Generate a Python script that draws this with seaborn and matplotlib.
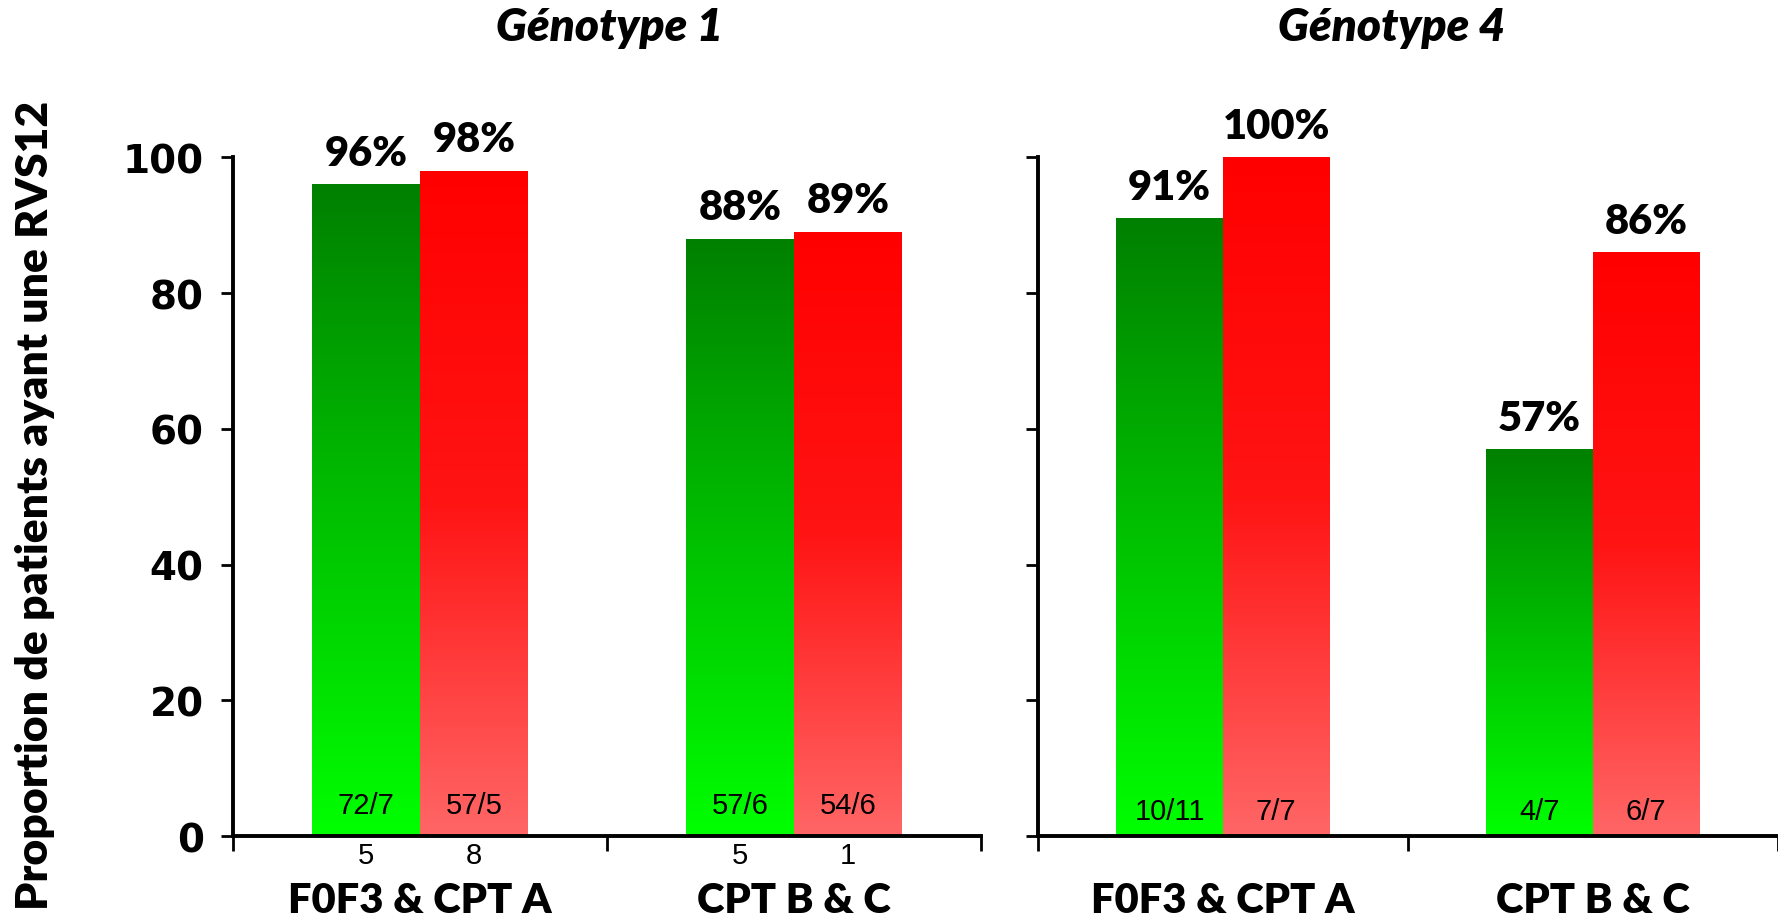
import numpy as np
import pandas as pd
import matplotlib
matplotlib.use("Agg")
import matplotlib.pyplot as plt
import seaborn as sns
from matplotlib.colors import LinearSegmentedColormap

# data
groups = ["F0F3 & CPT A", "CPT B & C"]
arms = ["vert", "rouge"]
geno1_green = [96, 88]
geno1_red = [98, 89]
geno4_green = [91, 57]
geno4_red = [100, 86]
# counts as they are printed (the panel 1 ones wrap below the axis)
geno1_green_n = ["72/7\n5", "57/6\n5"]
geno1_red_n = ["57/5\n8", "54/6\n1"]
geno4_green_n = ["10/11", "4/7"]
geno4_red_n = ["7/7", "6/7"]
titles = ["Génotype 1", "Génotype 4"]
ylabel = "Proportion de patients ayant une RVS12"
yticks = [0, 20, 40, 60, 80, 100]

green_cmap = LinearSegmentedColormap.from_list("g", ["#00ff00", "#008000"])
red_cmap = LinearSegmentedColormap.from_list("r", ["#ff6666", "#ff1414", "#ff0000"])

sns.set_style("ticks")
plt.rcParams["font.family"] = ["Lato", "DejaVu Sans"]
plt.rcParams["text.color"] = "black"
plt.rcParams["xtick.color"] = "black"
plt.rcParams["ytick.color"] = "black"
plt.rcParams["xtick.labelcolor"] = "black"
plt.rcParams["ytick.labelcolor"] = "black"

fig = plt.figure(figsize=(17.78, 9.2), dpi=100)
ax1 = fig.add_axes([0.131, 0.090, 0.4207, 0.738])
ax2 = fig.add_axes([0.5838, 0.090, 0.4162, 0.738])


def make_df(green, red):
    rows = []
    for g, a, b in zip(groups, green, red):
        rows.append({"group": g, "arm": arms[0], "value": a})
        rows.append({"group": g, "arm": arms[1], "value": b})
    return pd.DataFrame(rows)


def draw_panel(ax, green, red, green_n, red_n, xmax, count_y, show_labels):
    df = make_df(green, red)
    sns.barplot(data=df, x="group", y="value", hue="arm", hue_order=arms,
                palette=["#00c000", "#ff3030"], width=0.576, saturation=1,
                legend=False, ax=ax, errorbar=None)
    cmaps = [green_cmap, red_cmap]
    counts = [green_n, red_n]
    grad = np.linspace(0, 1, 256).reshape(-1, 1)
    for k, cont in enumerate(ax.containers):
        for i, bar in enumerate(cont):
            x0 = bar.get_x()
            w = bar.get_width()
            h = bar.get_height()
            im = ax.imshow(grad, cmap=cmaps[k], origin="lower", aspect="auto",
                           extent=[x0, x0 + w, 0, h], zorder=bar.get_zorder() + 0.1)
            im.set_clip_path(bar)
            bar.set_edgecolor("none")
            ax.annotate(f"{h:.0f}%", (x0 + w / 2, h), xytext=(0, 9),
                        textcoords="offset points", ha="center", va="bottom",
                        fontsize=30, fontweight="heavy", color="black", zorder=5)
            ax.text(x0 + w / 2, count_y, counts[k][i], ha="center", va="center",
                    fontsize=21, family=["Liberation Sans", "DejaVu Sans"],
                    color="black", linespacing=2.0, zorder=5, clip_on=False)

    ax.set_xlim(-0.5, xmax)
    ax.set_ylim(0, 100)
    ax.set_xlabel("")
    ax.set_ylabel("")
    sns.despine(ax=ax)
    for s in ["left", "bottom"]:
        ax.spines[s].set_linewidth(2.8)
        ax.spines[s].set_color("black")
    ax.set_yticks(yticks)
    ax.set_xticks([-0.5, 0.5, 1.5])
    ax.set_xticks([0, 1], minor=True)
    ax.set_xticklabels([], minor=False)
    ax.set_xticklabels(groups, minor=True)
    ax.tick_params(axis="x", which="major", length=11, width=2, color="black")
    ax.tick_params(axis="x", which="minor", length=0, pad=32, labelsize=30)
    ax.tick_params(axis="y", length=9, width=2, color="black", labelsize=28,
                   labelleft=show_labels, pad=12)
    for t in ax.get_xticklabels(minor=True):
        t.set_fontweight("heavy")
    for t in ax.get_yticklabels():
        t.set_fontweight("bold")
        t.set_family(["DejaVu Sans"])


draw_panel(ax1, geno1_green, geno1_red, geno1_green_n, geno1_red_n, 1.5, 0.95, True)
draw_panel(ax2, geno4_green, geno4_red, geno4_green_n, geno4_red_n, 1.479, 3.7, False)

fig.text(610 / 1778, 1 - 28 / 920, titles[0], ha="center", va="center",
         fontsize=33, fontweight="heavy", fontstyle="italic")
fig.text(1392 / 1778, 1 - 28 / 920, titles[1], ha="center", va="center",
         fontsize=33, fontweight="heavy", fontstyle="italic")
fig.text(35 / 1778, 1 - 505 / 920, ylabel, ha="center", va="center",
         rotation=90, fontsize=32, fontweight="heavy")

fig.savefig("out.png", dpi=100)
